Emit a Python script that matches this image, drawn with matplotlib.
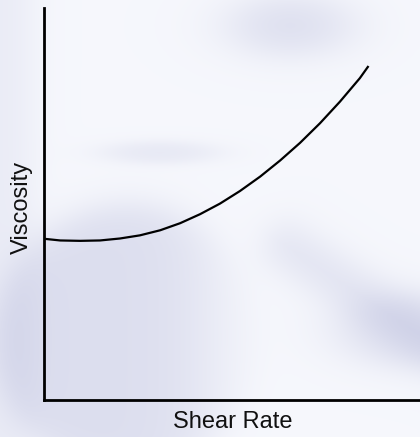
import numpy as np
import matplotlib
matplotlib.use("Agg")
import matplotlib.pyplot as plt

# curve (axes units 0-100)
shear_rate = [0.3, 4.3, 9.6, 14.9, 20.2, 25.5, 30.9, 36.2, 41.5, 46.8,
              52.1, 57.5, 62.8, 68.1, 73.4, 78.7, 84.0, 86.3]
viscosity = [41.1, 40.7, 40.6, 40.7, 41.2, 42.0, 43.3, 45.1, 47.4, 50.1,
             53.3, 57.0, 61.1, 65.6, 70.6, 76.1, 82.1, 85.2]

W, H = 420, 437


def soft(d, width):
    # smooth 0..1 step, used for the blurry backdrop shapes
    return 1.0 / (1.0 + np.exp(d / width))


def backdrop():
    yy, xx = np.mgrid[0:H, 0:W].astype(float)
    shade = np.zeros((H, W))
    # big soft disk, lower left
    r = np.hypot(xx - 130, yy - 340)
    shade += 0.55 * soft(r - 135, 10) * soft(xx - 210, 25)
    # top smudge
    r = np.hypot((xx - 290) / 1.6, (yy - 25) / 0.8)
    shade += 0.5 * soft(r - 35, 12)
    # horizontal streak
    r = np.hypot((xx - 160) / 3.0, (yy - 152) / 0.6)
    shade += 0.3 * soft(r - 18, 5)
    # diagonal streak to the right
    u = (xx - 270) * 0.83 + (yy - 235) * 0.55
    v = -(xx - 270) * 0.55 + (yy - 235) * 0.83
    shade += 0.4 * soft(np.abs(v) - 22, 10) * soft(-u, 10)
    # bottom right lump
    r = np.hypot((xx - 420) / 1.3, (yy - 330) / 0.6)
    shade += 0.45 * soft(r - 60, 15)
    # left edge
    shade += 0.25 * soft(xx - 30, 10)
    shade = np.clip(shade, 0, 1)
    light = np.array([0.965, 0.97, 0.99])
    dark = np.array([0.78, 0.79, 0.89])
    return light + shade[..., None] * (dark - light)


fig = plt.figure(figsize=(W / 100, H / 100), dpi=100)
bg = fig.add_axes([0, 0, 1, 1])
bg.imshow(backdrop(), aspect="auto", extent=[0, W, H, 0])
bg.axis("off")

ax = fig.add_axes([44 / W, 1 - 400 / H, 376 / W, 392 / H])
ax.patch.set_alpha(0)
ax.plot(shear_rate, viscosity, color="black", lw=1.6,
        solid_capstyle="butt", solid_joinstyle="round")
ax.set_xlim(0, 100)
ax.set_ylim(0, 100)
ax.set_xticks([])
ax.set_yticks([])
for side in ("top", "right"):
    ax.spines[side].set_visible(False)
for side in ("left", "bottom"):
    ax.spines[side].set_linewidth(2)
    ax.spines[side].set_color("black")

fig.text(233 / W, 1 - 422 / H, "Shear Rate", ha="center", va="center",
         fontsize=17, family="Liberation Sans", color="#111111")
fig.text(22 / W, 1 - 207 / H, "Viscosity", ha="center", va="center",
         rotation=90, fontsize=17, family="Liberation Sans", color="#111111")

fig.savefig("out.png", dpi=100)
